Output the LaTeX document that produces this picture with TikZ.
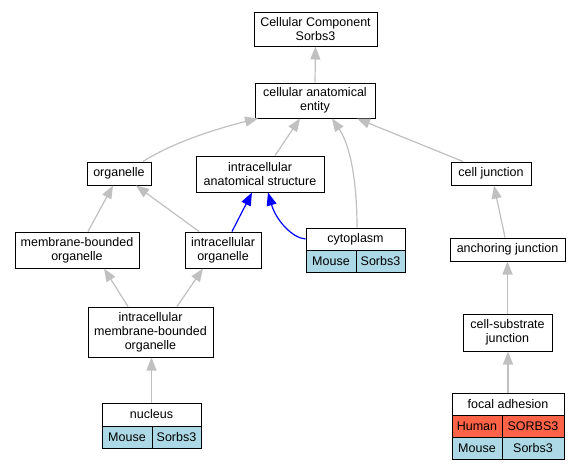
\documentclass[tikz,border=0pt]{standalone}
\usepackage{fontspec}
\setmainfont{Liberation Sans}
\usetikzlibrary{arrows.meta}
\definecolor{edgegray}{RGB}{192,192,192}
\definecolor{mouseblue}{RGB}{173,216,230}
\definecolor{humanred}{RGB}{255,99,71}
\begin{document}
\begin{tikzpicture}[x=1pt,y=-1pt,
  box/.style={draw=black, line width=1pt, fill=white, inner sep=0pt, align=center,
    font=\fontsize{12.5}{14}\selectfont},
  mousecell/.style={box, fill=mouseblue, minimum height=22pt},
  humancell/.style={box, fill=humanred, minimum height=22pt},
  edge/.style={draw=edgegray, line width=1.2pt, -{Triangle[length=13pt,width=10pt]}},
  blueedge/.style={edge, draw=blue}]
\path[use as bounding box] (0,0) rectangle (581,469);
% nodes
\node[box, minimum width=123pt, minimum height=34pt] (cc) at (315.5,29) {Cellular Component\\Sorbs3};
\node[box, minimum width=120pt, minimum height=35pt] (cae) at (315,100.5) {cellular anatomical\\entity};
\node[box, minimum width=64pt, minimum height=23pt] (org) at (119,173.5) {organelle};
\node[box, minimum width=128pt, minimum height=36pt] (ias) at (260,174) {intracellular\\anatomical structure};
\node[box, minimum width=124pt, minimum height=36pt] (mbo) at (77,250) {membrane-bounded\\organelle};
\node[box, minimum width=76pt, minimum height=36pt] (io) at (223,250) {intracellular\\organelle};
\node[box, minimum width=99pt, minimum height=22pt] (cyto) at (355.5,239) {cytoplasm};
\node[mousecell, minimum width=50pt] (cytom) at (331,261) {Mouse};
\node[mousecell, minimum width=49pt] (cytos) at (380.5,261) {Sorbs3};
\node[box, minimum width=80pt, minimum height=23pt] (cj) at (491,173.5) {cell junction};
\node[box, minimum width=115pt, minimum height=23pt] (aj) at (507.5,249.5) {anchoring junction};
\node[box, minimum width=125pt, minimum height=50pt] (imbo) at (150.5,332) {intracellular\\membrane-bounded\\organelle};
\node[box, minimum width=99pt, minimum height=23pt] (nuc) at (151.5,414.5) {nucleus};
\node[mousecell, minimum width=50pt] (nucm) at (127,437) {Mouse};
\node[mousecell, minimum width=49pt] (nucs) at (176.5,437) {Sorbs3};
\node[box, minimum width=89pt, minimum height=37pt] (csj) at (507.5,332.5) {cell-substrate\\junction};
\node[box, minimum width=112pt, minimum height=22pt] (fa) at (508,404) {focal adhesion};
\node[humancell, minimum width=50pt] (fah) at (477,426) {Human};
\node[humancell, minimum width=62pt] (fahs) at (533,426) {SORBS3};
\node[mousecell, minimum width=50pt] (fam) at (477,448) {Mouse};
\node[mousecell, minimum width=62pt] (fams) at (533,448) {Sorbs3};
% edges
\draw[edge] (cae.north) -- (cc.south);
\draw[edge] ([xshift=24pt]org.north) .. controls (172,143) and (215,129) .. ([xshift=-57pt]cae.south);
\draw[edge] ([xshift=15pt]ias.north) -- ([xshift=-15pt]cae.south);
\draw[edge] ([xshift=1.5pt]cyto.north) .. controls (357,180) and (350,145) .. ([xshift=17pt]cae.south);
\draw[edge] ([xshift=-28pt]cj.north) -- ([xshift=42pt]cae.south);
\draw[edge] ([xshift=11pt]mbo.north) -- ([xshift=-6pt]org.south);
\draw[edge] ([xshift=-24pt]io.north) -- ([xshift=17pt]org.south);
\draw[blueedge] ([xshift=9pt]io.north) -- ([xshift=-8pt]ias.south);
\draw[blueedge] (cyto.west) .. controls (292,238) and (276,220) .. ([xshift=8pt]ias.south);
\draw[edge] ([xshift=-22.5pt]imbo.north) -- ([xshift=27pt]mbo.south);
\draw[edge] ([xshift=26.5pt]imbo.north) -- ([xshift=-20pt]io.south);
\draw[edge] (nuc.north) -- (nuc.north |- imbo.south);
\draw[edge] ([xshift=-2.5pt]aj.north) -- ([xshift=3pt]cj.south);
\draw[edge] (csj.north) -- (aj.south);
\draw[edge] (fa.north) -- (fa.north |- csj.south);
\end{tikzpicture}
\end{document}
